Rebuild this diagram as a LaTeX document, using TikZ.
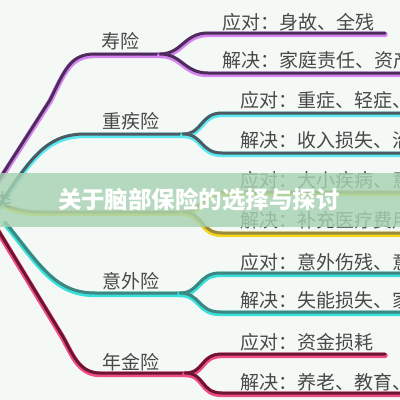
\documentclass[tikz,border=0pt]{standalone}
\usepackage{fontspec}
\newfontfamily\cjk{Noto Sans CJK SC}
\definecolor{bg}{HTML}{F5F9F5}
\definecolor{txt}{HTML}{484848}
\definecolor{band}{HTML}{A7D3B2}
\definecolor{pCore}{HTML}{4D2C5C}\definecolor{pGlow}{HTML}{D585EF}
\definecolor{cCore}{HTML}{4D5A62}\definecolor{cGlow}{HTML}{5AE8F2}
\definecolor{yCore}{HTML}{9A8A3A}\definecolor{yGlow}{HTML}{F4D41C}
\definecolor{tCore}{HTML}{3F8580}\definecolor{tGlow}{HTML}{38E0DC}
\definecolor{rCore}{HTML}{6D1430}\definecolor{rGlow}{HTML}{EE4D86}
\newcommand\twotone[3]{%
  \draw[glowline=#1, transform canvas={yshift=-1.4pt}] #3;
  \draw[coreline=#2] #3;}
\tikzset{
  glowline/.style={line width=5.5pt, draw=#1, line cap=round},
  coreline/.style={line width=3pt, draw=#1, line cap=round},
  lbl/.style={font=\cjk\fontsize{19}{19}\selectfont, text=txt, inner sep=0pt},
  sub/.style={lbl, anchor=west},
}
\begin{document}
\begin{tikzpicture}[x=1pt,y=-1pt]
\useasboundingbox (0,0) rectangle (400,400);
\fill[bg] (0,0) rectangle (400,400);
\clip (0,0) rectangle (400,400);
% ---- coordinates
% life
\coordinate (a0) at (-14,200); \coordinate (a1) at (50,100); \coordinate (a2) at (95,54);
\coordinate (af) at (160,54); \coordinate (au) at (208,33); \coordinate (aue) at (385,33);
\coordinate (al) at (208,73); \coordinate (ale) at (410,73);
% critical illness
\coordinate (b0) at (-2,207); \coordinate (b2) at (85,134); \coordinate (bf) at (183,134);
\coordinate (bu) at (222,113); \coordinate (bue) at (410,113);
\coordinate (bl) at (222,153); \coordinate (ble) at (410,153);
% medical
\coordinate (c0) at (5,205); \coordinate (c2) at (45,212); \coordinate (cf) at (183,212);
\coordinate (cu) at (222,192); \coordinate (cue) at (410,192);
\coordinate (cl) at (222,233); \coordinate (cle) at (410,233);
% accident
\coordinate (d0) at (5,222); \coordinate (d2) at (95,293); \coordinate (df) at (180,293);
\coordinate (du) at (220,273); \coordinate (due) at (410,273);
\coordinate (dl) at (220,312); \coordinate (dle) at (410,312);
% annuity
\coordinate (e0) at (-8,220); \coordinate (e1) at (62,335); \coordinate (e2) at (100,373);
\coordinate (ef) at (185,373); \coordinate (eu) at (222,354); \coordinate (eue) at (385,354);
\coordinate (el) at (222,393); \coordinate (ele) at (410,393);
% ---- branches
\twotone{pGlow}{pCore}{(a0) -- (a1) .. controls +(15,-30) and +(-25,0) .. (a2) -- (af)}
\twotone{pGlow}{pCore}{(af) .. controls +(22,0) and +(-24,0) .. (au) -- (aue)}
\twotone{pGlow}{pCore}{(af) .. controls +(22,0) and +(-24,0) .. (al) -- (ale)}
\twotone{cGlow}{cCore}{(b0) .. controls (30,160) and (45,134) .. (b2) -- (bf)}
\twotone{cGlow}{cCore}{(bf) .. controls +(20,0) and +(-22,0) .. (bu) -- (bue)}
\twotone{cGlow}{cCore}{(bf) .. controls +(20,0) and +(-22,0) .. (bl) -- (ble)}
\twotone{yGlow}{yCore}{(c0) .. controls (20,211) and (30,212) .. (c2) -- (cf)}
\twotone{yGlow}{yCore}{(cf) .. controls +(20,0) and +(-22,0) .. (cu) -- (cue)}
\twotone{yGlow}{yCore}{(cf) .. controls +(20,0) and +(-22,0) .. (cl) -- (cle)}
\twotone{tGlow}{tCore}{(d0) .. controls (40,265) and (55,293) .. (d2) -- (df)}
\twotone{tGlow}{tCore}{(df) .. controls +(20,0) and +(-22,0) .. (du) -- (due)}
\twotone{tGlow}{tCore}{(df) .. controls +(20,0) and +(-22,0) .. (dl) -- (dle)}
\twotone{rGlow}{rCore}{(e0) -- (e1) .. controls +(10,17) and +(-22,0) .. (e2) -- (ef)}
\twotone{rGlow}{rCore}{(ef) .. controls +(20,0) and +(-22,0) .. (eu) -- (eue)}
\twotone{rGlow}{rCore}{(ef) .. controls +(20,0) and +(-22,0) .. (el) -- (ele)}
% ---- labels
\node[lbl] (root) at (3,200) {类};
\node[lbl] (la) at (120,41) {寿险};
\node[lbl] (lb) at (131,121) {重疾险};
\node[lbl] (ld) at (131,281) {意外险};
\node[lbl] (le) at (131,362) {年金险};
\node[sub] (ta1) at (222,22) {应对：身故、全残};
\node[sub] (ta2) at (222,60) {解决：家庭责任、资产传承};
\node[sub] (tb1) at (240,100) {应对：重症、轻症、中症};
\node[sub] (tb2) at (240,140) {解决：收入损失、治疗费用};
\node[sub] (tc1) at (240,180) {应对：大小疾病、意外};
\node[sub] (tc2) at (240,220) {解决：补充医疗费用};
\node[sub] (td1) at (240,262) {应对：意外伤残、意外身故};
\node[sub] (td2) at (240,300) {解决：失能损失、家庭责任};
\node[sub] (te1) at (240,342) {应对：资金损耗};
\node[sub] (te2) at (240,382) {解决：养老、教育、传承};
% ---- title band
\fill[band, opacity=0.82] (0,173) rectangle (400,227);
\node[font=\cjk\bfseries\fontsize{23.5}{23.5}\selectfont, text=white, inner sep=0pt] (title) at (199,200) {关于脑部保险的选择与探讨};
\end{tikzpicture}
\end{document}
